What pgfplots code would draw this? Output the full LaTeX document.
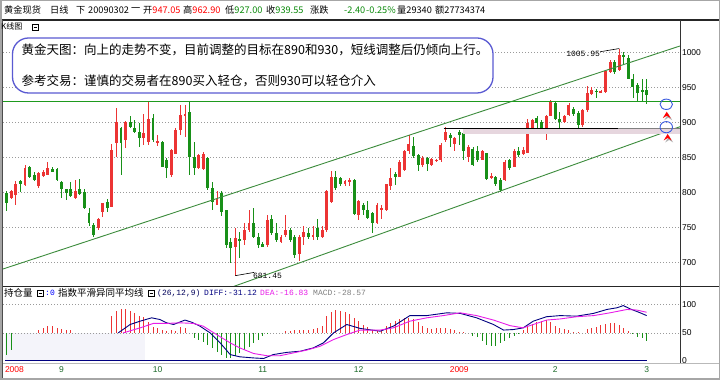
\documentclass[border=0pt]{standalone}
\usepackage{fontspec}
\setmainfont{Liberation Sans}
\newfontfamily\cjk{Noto Sans CJK SC}
\newfontfamily\mono{Liberation Mono}
\usepackage{pgfplots}
\usepackage{pgfplotstable}
\pgfplotsset{compat=1.18}
\definecolor{upred}{HTML}{EC3434}
\definecolor{dngreen}{HTML}{189018}
\definecolor{chgreen}{HTML}{3C8C3C}
\definecolor{ln930}{HTML}{1E9A1E}
\definecolor{boxblue}{HTML}{5A5AD2}
\definecolor{circblue}{HTML}{3A5AE0}
\definecolor{navyc}{HTML}{000080}
\definecolor{magc}{HTML}{E81CE8}
\definecolor{gridc}{HTML}{9A9A9A}
\definecolor{txtgreen}{HTML}{0A8A0A}
\definecolor{monthc}{HTML}{1C6A2A}
\definecolor{bandc}{HTML}{E6D6DE}
\definecolor{lav}{HTML}{F4F4FA}

\pgfplotstableread{
i o h l c
0 799 802 774 785
1 792 804 791 802
2 797 816 782 813
3 817 818 801 813
4 811 840 810 835
5 837 838 821 823
6 825 829 817 818
7 809 830 807 828
8 824 832 823 829
9 826 844 825 835
10 834 837 829 830
11 834 835 817 818
12 815 817 792 805
13 805 806 790 799
14 805 815 794 795
15 792 818 791 802
16 806 820 797 798
17 801 805 777 778
18 771 778 753 756
19 754 756 736 740
20 749 764 747 763
21 773 786 766 785
22 787 791 773 778
23 780 869 779 861
24 871 921 851 901
25 892 894 825 871
26 875 902 864 901
27 901 910 892 894
28 893 904 885 887
29 887 899 866 878
30 878 912 868 885
31 873 929 868 905
32 907 913 873 875
33 872 882 866 874
34 873 874 836 837
35 847 849 821 835
36 825 863 823 861
37 856 893 855 890
38 890 925 882 911
39 910 925 880 913
40 915 931 825 851
41 851 873 825 835
42 835 856 834 854
43 834 858 833 856
44 849 851 804 806
45 806 815 775 787
46 783 802 782 791
47 799 802 766 773
48 775 776 721 725
49 730 735 699 721
50 723 750 681.45 735
51 734 744 706 731
52 733 756 725 747
53 747 775 744 756
54 756 778 735 737
55 737 742 721 725
56 726 730 722 723
57 725 768 723 761
58 763 768 740 742
59 742 756 730 733
60 730 740 728 737
61 739 768 737 747
62 747 749 730 733
63 737 740 706 711
64 712 740 702 737
65 737 752 725 744
66 742 749 734 736
67 737 752 733 740
68 750 763 733 736
69 737 752 735 747
70 747 804 744 802
71 787 831 786 823
72 823 831 804 806
73 821 823 810 812
74 813 818 810 817
75 816 821 809 818
76 818 819 768 769
77 768 790 761 788
78 782 785 768 775
79 775 788 763 764
80 771 773 742 756
81 756 785 755 782
82 775 782 763 778
83 775 813 774 812
84 809 835 804 821
85 826 829 811 823
86 823 847 822 844
87 833 861 831 859
88 859 882 856 869
89 866 880 849 852
90 854 855 831 840
91 840 852 837 849
92 849 851 831 841
93 840 849 838 848
94 846 848 844 847
95 847 871 844 868
96 875 894 873 887
97 882 885 866 878
98 870 880 859 878
99 887 890 868 882
100 885 890 846 859
101 851 868 844 866
102 863 866 838 840
103 859 866 844 847
104 847 861 846 859
105 856 857 818 820
106 822 828 819 824
107 822 824 809 812
108 818 821 801 804
109 818 846 817 844
110 846 848 832 835
111 837 862 836 859
112 860 865 851 854
113 856 866 854 861
114 857 905 856 899
115 893 906 892 904
116 906 909 890 899
117 901 904 885 887
118 890 911 875 910
119 910 932 909 930
120 928 930 904 906
121 905 916 891 901
122 901 911 899 910
123 911 928 910 925
124 920 923 909 913
125 914 916 893 897
126 897 920 894 918
127 918 952 916 942
128 941 951 940 947
129 946 948 935 944
130 943 947 942 945
131 944 976 943 974
132 973 990 971 987
133 987 990 970 973
134 976 1005.95 974 997
135 997 1001 982 994
136 992 997 962 963
137 963 970 935 951
138 954 957 930 942
139 947 963 930 944
140 947.05 962.9 927 939.55
}\candles

\pgfplotstableread{
i h
0 -40
1 -30
7 6
8 9
9 13
10 12
11 9
12 7
13 6
14 5
23 30
24 40
25 42
26 42
27 39
28 36
29 30
30 28
31 20
32 11
33 8
34 5
35 3
36 5
37 4
38 10
39 8
41 -9
42 -12
43 -16
44 -22
45 -28
46 -34
47 -40
48 -45
49 -46
50 -42
51 -36
52 -31
53 -25
54 -19
55 -13
56 -6
57 -2
61 3
62 4
63 5
64 5
65 6
66 6
67 7
68 8
69 12
70 30
71 38
72 41
73 40
74 38
75 33
76 26
77 21
78 15
79 10
80 5
81 3
82 5
83 12
84 17
85 21
86 25
87 27
88 26
89 24
90 20
91 12
92 9
93 7
94 9
95 9
96 9
97 7
98 6
99 2
100 1
102 -6
103 -8
104 -15
105 -21
106 -24
107 -24
108 -19
109 -15
110 -10
111 -5
112 -2
113 6
114 12
115 16
116 19
117 21
118 23
119 20
120 13
121 9
122 7
123 5
124 2
125 1
127 7
128 9
129 11
130 14
131 16
132 18
133 17
134 14
135 9
136 3
137 -2
138 -8
139 -10
140 -15
}\macd

\pgfplotsset{
  candle/.style n args={3}{draw=none, mark=none, forget plot,
    restrict expr to domain={\thisrow{c}-\thisrow{o}}{#2},
    error bars/.cd, y dir=both, y explicit, error mark=none,
    error bar style={draw=#1, color=#1, line width=#3}},
}

\begin{document}
\begin{tikzpicture}[x=1pt,y=1pt]
\useasboundingbox (0,0) rectangle (720,380);
\fill[white] (0,0) rectangle (720,380);

% ---------------- main price panel ----------------
\begin{axis}[at={(3pt,94pt)}, anchor=south west, scale only axis,
  width=677pt, height=265pt,
  xmin=-0.81, xmax=147.3, ymin=666.7, ymax=1045.3,
  axis line style={draw=none}, xtick=\empty,
  ytick={700,750,800,850,900,950,1000}, yticklabel pos=right,
  major tick length=0pt,
  yticklabel style={anchor=west, xshift=-1.5pt, font=\fontsize{8.5}{9}\selectfont},
  /pgf/number format/1000 sep={}, /pgf/number format/assume math mode=true,
  ymajorgrids, grid style={gridc, line width=0.7pt, dash pattern=on 0.9pt off 2.1pt},
  clip=true]

% up candles: wick then body
\addplot[candle={upred}{0:5000}{0.8pt}]
  table[x=i, y expr={(\thisrow{h}+\thisrow{l})/2}, y error expr={(\thisrow{h}-\thisrow{l})/2}]{\candles};
\addplot[candle={upred}{0:5000}{2.9pt}]
  table[x=i, y expr={(\thisrow{o}+\thisrow{c})/2}, y error expr={max(abs(\thisrow{c}-\thisrow{o})/2,0.45)}]{\candles};
% down candles
\addplot[candle={dngreen}{-5000:-0.001}{0.8pt}]
  table[x=i, y expr={(\thisrow{h}+\thisrow{l})/2}, y error expr={(\thisrow{h}-\thisrow{l})/2}]{\candles};
\addplot[candle={dngreen}{-5000:-0.001}{2.9pt}]
  table[x=i, y expr={(\thisrow{o}+\thisrow{c})/2}, y error expr={max(abs(\thisrow{c}-\thisrow{o})/2,0.45)}]{\candles};

% trend channel and levels
\addplot[chgreen, line width=0.9pt] coordinates {(-0.81,691.0) (147.3,1009.6)};
\addplot[chgreen, line width=0.9pt] coordinates {(49.5,665.7) (147.3,894.3)};
\addplot[ln930, line width=1.2pt] coordinates {(-0.81,930) (147.3,930)};
\fill[bandc] (axis cs:99.8,883.5) rectangle (axis cs:147.3,890.8);
\addplot[black, line width=1.1pt] coordinates {(95.6,892) (133.7,892)};
\addplot[gray, line width=1.1pt] coordinates {(133.7,892) (147.3,892)};

% target circles and arrows
\draw[circblue, line width=0.9pt] (axis cs:144.3,926.3) ellipse [x radius=6.2pt, y radius=5.2pt];
\draw[circblue, line width=0.9pt] (axis cs:144.3,893.6) ellipse [x radius=6.2pt, y radius=5.6pt];
\fill[gray!60] ([shift={(1.5pt,-2pt)}]axis cs:144.4,915.7) -- ++(-4pt,-6.5pt) -- ++(4pt,2.5pt) -- ++(4pt,-2.5pt) -- cycle;
\fill[red] (axis cs:144.4,915.7) -- ++(-4pt,-6.5pt) -- ++(4pt,2.5pt) -- ++(4pt,-2.5pt) -- cycle;
\fill[gray!60] ([shift={(1.5pt,-2pt)}]axis cs:144.6,883.9) -- ++(-4pt,-6.5pt) -- ++(4pt,2.5pt) -- ++(4pt,-2.5pt) -- cycle;
\fill[red] (axis cs:144.6,883.9) -- ++(-4pt,-6.5pt) -- ++(4pt,2.5pt) -- ++(4pt,-2.5pt) -- cycle;

% extreme annotations
\draw[black, line width=0.6pt] (axis cs:134,1005.95) -- ++(-19pt,-3.2pt)
  node[anchor=north east, inner sep=0pt, yshift=0.5pt, font=\mono\fontsize{8}{8}\selectfont] {1005.95};
\draw[black, line width=0.6pt] (axis cs:50,681.45) -- ++(19pt,3.3pt)
  node[anchor=north west, inner sep=0pt, xshift=-1.5pt, yshift=-0.5pt, font=\mono\fontsize{8}{8}\selectfont] {681.45};
\end{axis}

% ---------------- MACD panel ----------------
\begin{axis}[at={(3pt,16pt)}, anchor=south west, scale only axis,
  width=677pt, height=64pt,
  xmin=-0.81, xmax=147.3, ymin=-55.9, ymax=59,
  axis line style={draw=none},
  xtick={1.7,12,33,56,77,99,120,140},
  xticklabels={\textcolor{red}{2008},9,10,11,12,\textcolor{red}{2009},2,3},
  xticklabel style={monthc, font=\fontsize{8.5}{9}\selectfont, yshift=1pt},
  ytick={-50,0,50}, yticklabels={0,50,100}, yticklabel pos=right,
  yticklabel style={anchor=west, xshift=-1.5pt, font=\fontsize{8.5}{9}\selectfont},
  major tick length=0pt,
  /pgf/number format/assume math mode=true,
  clip=true]
\fill[lav] (axis cs:-0.37,0) rectangle (axis cs:30.3,-48.5);
\draw[gridc, line width=0.7pt, dash pattern=on 0.9pt off 2.1pt] (axis cs:-0.81,0) -- (axis cs:147.3,0);
\draw[gridc, line width=0.7pt, dash pattern=on 0.9pt off 2.1pt] (axis cs:-0.81,51) -- (axis cs:147.3,51);
\addplot[ycomb, mark=none, upred, line width=0.9pt, restrict y to domain=0.05:200] table[x=i,y=h]{\macd};
\addplot[ycomb, mark=none, dngreen, line width=0.9pt, restrict y to domain=-200:-0.05] table[x=i,y=h]{\macd};
\addplot[navyc, line width=1.3pt] coordinates {(-0.4,-50) (140,-50)};
% DIFF
\addplot[navyc, line width=0.9pt] coordinates {
(24.4,0) (27,15) (29.2,21) (31.7,27) (33.5,24) (35,18) (36.5,15) (39,23) (40.5,19)
(42.3,12) (44.5,0) (46.7,-18) (48.9,-39) (51,-43) (54,-45) (56.2,-46) (58.3,-39)
(61.3,-35) (64.2,-33) (67.1,-27) (69.3,-18) (71.5,0) (74.4,15) (77.3,8) (81.7,3)
(84.6,12) (88.2,31) (91.9,31) (96.3,36) (99.2,35) (102.8,27) (106.5,15) (108.7,5)
(110.9,6) (113,9) (115.2,21) (118.1,29) (121.1,31) (124.7,30) (128.4,35) (131.3,42)
(133.5,45) (134.9,49) (136.4,43) (138.6,36) (140,31)};
% DEA
\addplot[magc, line width=0.9pt] coordinates {
(25.5,0) (29.2,9) (32.1,17) (35,17) (37.9,18) (40.8,17) (43,12) (45.9,-3) (48.9,-18)
(51,-27) (54,-37) (56.9,-41) (59.8,-41) (62.7,-36) (65.6,-31) (68.6,-24) (71.5,-12)
(74.4,-3) (77.3,5) (81.7,5) (84.6,9) (88.2,21) (91.9,27) (95.5,31) (99.2,36)
(102.8,31) (106.5,23) (110.1,13) (113,9) (115.2,15) (118.1,23) (121.1,25) (124.7,29)
(128.4,31) (132,36) (135.7,42) (137.8,41) (140,37)};
\end{axis}

% ---------------- frame ----------------
\draw[black!85, line width=1.2pt] (0,360) -- (720,360);
\draw[black!85, line width=1.2pt] (0,93.3) -- (720,93.3);
\draw[black!80, line width=1pt] (680,16.5) -- (680,360);
\draw[gray!55, line width=0.6pt] (0,17) -- (720,17);
\draw[black!70, line width=1pt] (2,2) -- (2,360);
\draw[gray!70, line width=1.5pt] (0.75,0.75) rectangle (719.25,379.25);

% ---------------- header ----------------
\begin{scope}[every node/.style={anchor=west, inner sep=0pt, font=\cjk\fontsize{9.2}{10}\selectfont}]
\node at (4,370) {黄金现货};
\node at (50,370) {日线};
\node at (76,370) {下};
\node at (88,370) {20090302};
\node at (131,370) {一};
\node at (143,370) {开\textcolor{red}{947.05}};
\node at (183,370) {高\textcolor{red}{962.90}};
\node at (225,370) {低\textcolor{txtgreen}{927.00}};
\node at (266,370) {收\textcolor{txtgreen}{939.55}};
\node at (310,370) {涨跌};
\node at (344,370) {\textcolor{txtgreen}{-2.40}};
\node at (366,370) {\textcolor{txtgreen}{-0.25\%}};
\node at (397,370) {量29340};
\node at (435,370) {额27734374};
\end{scope}
\node[anchor=west, inner sep=0pt, font=\cjk\fontsize{8}{8}\selectfont] at (1,354) {K线图};
\draw[black, line width=0.5pt] (32,350) rectangle (38,356);
\draw[black, line width=0.5pt] (33.5,353) -- (36.5,353);

% ---------------- annotation box ----------------
\draw[boxblue, line width=1.3pt, fill=white, rounded corners=16pt] (12.5,342) rectangle (493,287);
\node[anchor=west, inner sep=0pt, font=\cjk\fontsize{12.5}{13}\selectfont] at (21.5,330)
  {黄金天图：向上的走势不变，目前调整的目标在890和930，短线调整后仍倾向上行。};
\node[anchor=west, inner sep=0pt, font=\cjk\fontsize{12.5}{13}\selectfont] at (21.5,299.3)
  {参考交易：谨慎的交易者在890买入轻仓，否则930可以轻仓介入};

% ---------------- MACD header ----------------
\node[anchor=west, inner sep=0pt, font=\cjk\fontsize{9.5}{10}\selectfont] at (4,87) {持仓量};
\draw[black, line width=0.5pt] (37,84) rectangle (43,90);
\draw[black, line width=0.5pt] (38.5,87) -- (41.5,87);
\node[anchor=west, inner sep=0pt, font=\mono\fontsize{8}{8}\selectfont, text=blue] at (45,87) {:0};
\node[anchor=west, inner sep=0pt, font=\cjk\fontsize{9.5}{10}\selectfont] at (58,87) {指数平滑异同平均线};
\draw[black, line width=0.5pt] (148,84) rectangle (154,90);
\draw[black, line width=0.5pt] (149.5,87) -- (152.5,87);
\node[anchor=west, inner sep=0pt, font=\mono\fontsize{8}{8}\selectfont, text=navyc!70!black] at (157,87) {(26,12,9)};
\node[anchor=west, inner sep=0pt, font=\mono\fontsize{8}{8}\selectfont, text=navyc] at (204,87) {DIFF:-31.12};
\node[anchor=west, inner sep=0pt, font=\mono\fontsize{8}{8}\selectfont, text=magc] at (260,87) {DEA:-16.83};
\node[anchor=west, inner sep=0pt, font=\mono\fontsize{8}{8}\selectfont, text=gray] at (313,87) {MACD:-28.57};
\end{tikzpicture}
\end{document}
